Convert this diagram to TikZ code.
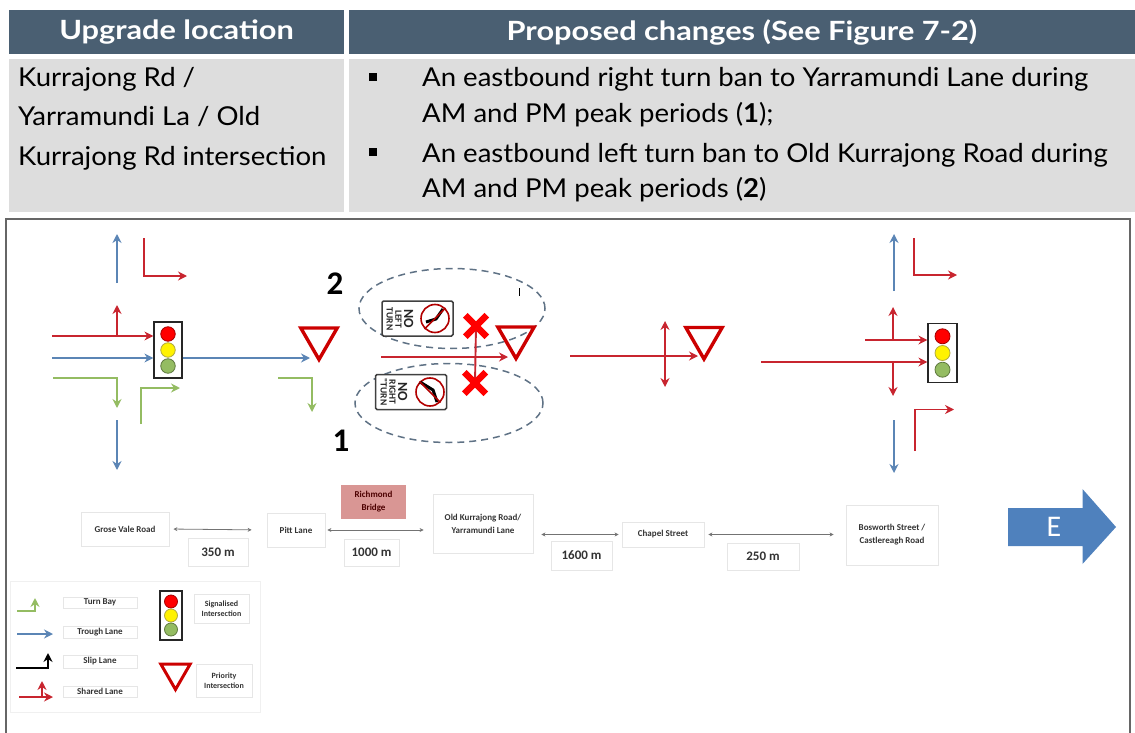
\documentclass[tikz,border=0pt]{standalone}
\usepackage{fontspec}
\setmainfont{Lato}
\newfontfamily\bodyfont[FakeStretch=1.06]{Lato}
\newfontfamily\headfont[FakeStretch=1.16]{Lato}
\newfontfamily\diagfont{Carlito}
\usetikzlibrary{arrows.meta,calc,shapes.geometric,shapes.misc}
\definecolor{headblue}{HTML}{4A5F72}
\definecolor{cellgrey}{HTML}{DDDDDD}
\definecolor{lanered}{HTML}{C8252F}
\definecolor{laneblue}{HTML}{5B85B5}
\definecolor{lanegreen}{HTML}{94BC62}
\definecolor{dashgrey}{HTML}{5F7285}
\definecolor{boxgrey}{HTML}{E6E6E6}
\definecolor{bridgerose}{HTML}{D99694}
\definecolor{eastblue}{HTML}{4F81BD}
\tikzset{
  headcell/.style={fill=headblue, text=white, inner sep=0pt, font=\headfont\fontsize{26.5}{28}\selectfont\bfseries},
  bodycell/.style={fill=cellgrey, inner sep=0pt},
  celltext/.style={inner sep=0pt, anchor=base west, font=\bodyfont\fontsize{26}{36}\selectfont},
  dot/.style={fill=black, inner sep=0pt, minimum width=8pt, minimum height=8pt},
  redlane/.style={draw=lanered, line width=1.9pt, -{Stealth[length=9pt,width=9pt]}},
  bluelane/.style={draw=laneblue, line width=1.9pt, -{Stealth[length=9pt,width=9pt]}},
  greenlane/.style={draw=lanegreen, line width=1.9pt, -{Stealth[length=9pt,width=9pt]}},
  blacklane/.style={draw=black, line width=1.9pt, -{Stealth[length=9pt,width=9pt]}},
  yieldsign/.style={regular polygon, regular polygon sides=3, shape border rotate=180, draw=red!80!black, line width=3.4pt, inner sep=0pt, minimum size=42pt},
  lightbox/.style={draw=black!85, fill=white, line width=1.2pt, inner sep=0pt},
  roadbox/.style={draw=boxgrey, line width=0.8pt, inner sep=0pt, align=center, text=black!80, font=\diagfont\fontsize{9}{12.5}\selectfont\bfseries},
  distbox/.style={roadbox, font=\diagfont\fontsize{13}{14}\selectfont\bfseries},
  distline/.style={draw=black!55, line width=0.8pt, {Stealth[length=4pt,width=4pt]}-{Stealth[length=4pt,width=4pt]}},
  banoval/.style={ellipse, draw=dashgrey, line width=1.5pt, dash pattern=on 7pt off 5pt, inner sep=0pt},
  banx/.style={cross out, draw=red, line width=6.5pt, inner sep=0pt, minimum size=15pt},
  signbox/.style={draw=black!75, fill=white, line width=1.5pt, rounded corners=1.5pt, inner sep=0pt, minimum width=71pt, minimum height=35pt},
  signtext/.style={rotate=-90, align=center, inner sep=0pt, text=black!85, font=\diagfont\fontsize{9.5}{8.8}\selectfont\bfseries},
  signring/.style={circle, draw=red!70!black, line width=1.6pt, inner sep=0pt, minimum size=28pt},
  bignum/.style={inner sep=0pt, font=\diagfont\fontsize{33}{36}\selectfont\bfseries},
}
% box with the three lamps: name, position, width, height, pitch, lamp size
\newcommand{\trafficlight}[6]{
  \node[lightbox, minimum width=#3pt, minimum height=#4pt] (#1) at (#2) {};
  \foreach \lampy/\lampc in {-1/red, 0/yellow, 1/lanegreen}
    \node[circle, fill=\lampc, draw=black!35!\lampc, line width=0.8pt, inner sep=0pt, minimum size=#6pt] (#1\lampc) at ($(#1)+(0,\lampy*#5)$) {};
}
\begin{document}
\begin{tikzpicture}[x=1pt, y=-1pt]
  \useasboundingbox (0,0) rectangle (1135,733);
  % table
  \node[headcell, minimum width=335pt, minimum height=44pt] (headloc) at (176.5,32) {Upgrade location};
  \node[headcell, minimum width=786pt, minimum height=44pt] (headchg) at (742,32) {Proposed changes (See Figure 7-2)};
  \node[bodycell, minimum width=335pt, minimum height=153pt] (cellloc) at (176.5,135.5) {};
  \node[bodycell, minimum width=786pt, minimum height=153pt] (cellchg) at (742,135.5) {};
  \node[celltext] (loc1) at (18,87) {Kurrajong Rd /};
  \node[celltext] (loc2) at (18,126) {Yarramundi La / Old};
  \node[celltext] (loc3) at (18,165) {Kurrajong Rd intersection};
  \node[dot] (dot1) at (373,77) {};
  \node[celltext] (chg1) at (422,87) {An eastbound right turn ban to Yarramundi Lane during};
  \node[celltext] (chg2) at (422,123) {AM and PM peak periods (\textbf{1});};
  \node[dot] (dot2) at (373,152) {};
  \node[celltext] (chg3) at (422,163) {An eastbound left turn ban to Old Kurrajong Road during};
  \node[celltext] (chg4) at (422,197) {AM and PM peak periods (\textbf{2})};
  % frame, open at the foot of the page
  \draw[black!60, line width=1.6pt] (6,733) -- (6,219) -- (1130,219) -- (1130,733);
  % west signals
  \trafficlight{lightw}{168,350}{28}{56}{16}{14.5}
  \coordinate (wup) at (117,283);
  \draw[bluelane] (wup) -- ++(0,-49);
  \coordinate (wleft) at (144,238);
  \draw[redlane] (wleft) -- ++(0,38) -- ++(43,0);
  \coordinate (wred) at (52,336);
  \draw[redlane] (wred) -- (lightw.west|-wred);
  \coordinate (wbranch) at (117,336);
  \draw[redlane] (wbranch) -- ++(0,-31);
  \coordinate (wblue) at (52,358);
  \draw[bluelane] (wblue) -- (lightw.west|-wblue);
  \coordinate (wgreen) at (53,378);
  \draw[greenlane] (wgreen) -- ++(64,0) -- ++(0,30);
  \coordinate (wbay) at (141,424);
  \draw[greenlane] (wbay) -- ++(0,-36) -- ++(39,0);
  \coordinate (wdown) at (117,420);
  \draw[bluelane] (wdown) -- ++(0,50);
  % Pitt Lane
  \node[yieldsign] (yieldp) at (319,338.5) {};
  \coordinate (pin) at (310,358);
  \draw[bluelane] (lightw.east|-pin) -- (pin);
  \coordinate (pgreen) at (278,378);
  \draw[greenlane] (pgreen) -- ++(34,0) -- ++(0,34);
  \node[bignum] (numtwo) at (335,284) {2};
  \node[bignum] (numone) at (341,441) {1};
  % Old Kurrajong Road
  \node[banoval, minimum width=186pt, minimum height=80pt] (ovaltop) at (452,308.5) {};
  \node[banoval, minimum width=188pt, minimum height=79pt] (ovalbot) at (449,403) {};
  \node[yieldsign] (yieldo) at (516,337.5) {};
  \coordinate (oin) at (381,357);
  \coordinate (oend) at (508,357);
  \draw[redlane] (oin) -- (oend);
  \draw[lanered, line width=1.9pt] (476,326) -- (475,383);
  \node[banx] (xtop) at (476,326) {};
  \node[banx] (xbot) at (475,383) {};
  \node[signbox] (signleft) at (417.5,318.5) {};
  \node[signtext] (signlefttxt) at (400,319) {{\fontsize{14}{13}\selectfont NO}\\LEFT\\TURN};
  \node[signring] (ringleft) at (435,318.5) {};
  \draw[black, line width=3pt] (426,322) -- (436,319) -- (443,309);
  \draw[red!70!black, line width=1.6pt] (ringleft.45) -- (ringleft.225);
  \node[signbox] (signright) at (411,392) {};
  \node[signtext] (signrighttxt) at (394,392) {{\fontsize{14}{13}\selectfont NO}\\RIGHT\\"TURN};
  \node[signring] (ringright) at (430,392) {};
  \draw[black, line width=3pt] (420,382) -- (433,390) -- (437,402);
  \draw[red!70!black, line width=1.6pt] (ringright.135) -- (ringright.315);
  \coordinate (marktop) at (519,288);
  \draw[black, line width=1pt] (marktop) -- ++(0,8);
  % Chapel Street
  \node[yieldsign] (yieldc) at (704,338) {};
  \coordinate (cin) at (570,356);
  \coordinate (cend) at (698,356);
  \draw[redlane] (cin) -- (cend);
  \coordinate (cmid) at (665,354);
  \draw[redlane] (cmid) -- ++(0,-33);
  \draw[redlane] (cmid) -- ++(0,33);
  % east signals
  \trafficlight{lighte}{942.5,353}{29}{59.5}{16.7}{15}
  \coordinate (eup) at (894,291);
  \draw[bluelane] (eup) -- ++(0,-57);
  \coordinate (eleft) at (914,238);
  \draw[redlane] (eleft) -- ++(0,37) -- ++(43,0);
  \coordinate (ered) at (865,340);
  \draw[redlane] (ered) -- (lighte.west|-ered);
  \coordinate (ebranch) at (893,340);
  \draw[redlane] (ebranch) -- ++(0,-33);
  \coordinate (elong) at (761,362);
  \draw[redlane] (elong) -- (lighte.west|-elong);
  \coordinate (ebranchd) at (893,362);
  \draw[redlane] (ebranchd) -- ++(0,34);
  \coordinate (ebay) at (915,451);
  \draw[redlane] (ebay) -- ++(0,-41.5) -- ++(39,0);
  \coordinate (edown) at (894,420);
  \draw[bluelane] (edown) -- ++(0,53);
  % road strip
  \node[roadbox, minimum width=88pt, minimum height=34pt] (grose) at (125,529) {Grose Vale Road};
  \node[roadbox, minimum width=58pt, minimum height=34pt] (pitt) at (296,530) {Pitt Lane};
  \node[roadbox, minimum width=100pt, minimum height=59pt, font=\diagfont\fontsize{9}{13}\selectfont\bfseries] (oldk) at (483,523.5) {Old Kurrajong Road/\\Yarramundi Lane};
  \node[roadbox, minimum width=82pt, minimum height=25pt] (chapel) at (663,534.5) {Chapel Street};
  \node[roadbox, minimum width=92pt, minimum height=60pt, font=\diagfont\fontsize{9}{13}\selectfont\bfseries] (boswth) at (892,535) {Bosworth Street /\\Castlereagh Road};
  \node[fill=bridgerose, inner sep=0pt, minimum width=65pt, minimum height=34pt, align=center, text=black!70!red, font=\diagfont\fontsize{9}{13}\selectfont\bfseries] (bridge) at (373.5,502) {Richmond\\Bridge};
  \draw[distline, shorten <=4pt, shorten >=15pt] (grose.east) -- (pitt.west);
  \draw[distline, shorten <=2pt, shorten >=9pt] (pitt.east) -- (oldk.west|-pitt);
  \draw[distline, shorten <=8pt, shorten >=3pt] (oldk.east|-chapel.west) -- (chapel.west);
  \draw[distline, shorten <=4pt, shorten >=12pt] (chapel.east) -- (boswth.west|-chapel);
  \node[distbox, minimum width=60pt, minimum height=28pt] (dista) at (218,552) {350 m};
  \node[distbox, minimum width=55pt, minimum height=27pt] (distb) at (371.5,552.5) {1000 m};
  \node[distbox, minimum width=61pt, minimum height=29pt] (distc) at (581.5,555.5) {1600 m};
  \node[distbox, minimum width=72pt, minimum height=27pt] (distd) at (763,556.5) {250 m};
  % east marker
  \path[fill=eastblue] (1008,508) -- (1082.5,508) -- (1082.5,489) -- (1116,527) -- (1082.5,564) -- (1082.5,546) -- (1008,546) -- cycle;
  \node[text=white, inner sep=0pt, font=\diagfont\fontsize{30}{30}\selectfont] (east) at (1054,527) {E};
  % legend
  \node[draw=black!6, line width=0.8pt, inner sep=0pt, minimum width=250pt, minimum height=131pt] (legend) at (135,646.5) {};
  \node[roadbox, minimum width=74pt, minimum height=11pt] (lgturn) at (100,602.5) {Turn Bay};
  \node[roadbox, minimum width=74pt, minimum height=12pt] (lgthru) at (100,632) {Trough Lane};
  \node[roadbox, minimum width=74pt, minimum height=13pt] (lgslip) at (100,661.5) {Slip Lane};
  \node[roadbox, minimum width=74pt, minimum height=11pt] (lgshare) at (100,691.5) {Shared Lane};
  \coordinate (lgt) at (17,611);
  \draw[greenlane] (lgt) -- ++(18,0) -- ++(0,-13);
  \coordinate (lgb) at (17,634);
  \draw[bluelane] (lgb) -- ++(36,0);
  \coordinate (lgs) at (16,668);
  \draw[blacklane] (lgs) -- ++(32,0) -- ++(0,-15);
  \coordinate (lgr) at (19,697);
  \draw[redlane] (lgr) -- ++(34,0);
  \coordinate (lgrb) at (42,697);
  \draw[redlane] (lgrb) -- ++(0,-16);
  \trafficlight{lightk}{171,615.5}{22}{49}{14}{13}
  \node[yieldsign, minimum size=34pt, line width=3pt] (yieldk) at (175.5,672.5) {};
  \node[roadbox, minimum width=55pt, minimum height=29pt, font=\diagfont\fontsize{8}{10.5}\selectfont\bfseries] (lgsig) at (221.5,608.5) {Signalised\\Intersection};
  \node[roadbox, minimum width=56pt, minimum height=33pt, font=\diagfont\fontsize{8}{10.5}\selectfont\bfseries] (lgpri) at (224,680.5) {Priority\\Intersection};
\end{tikzpicture}
\end{document}
